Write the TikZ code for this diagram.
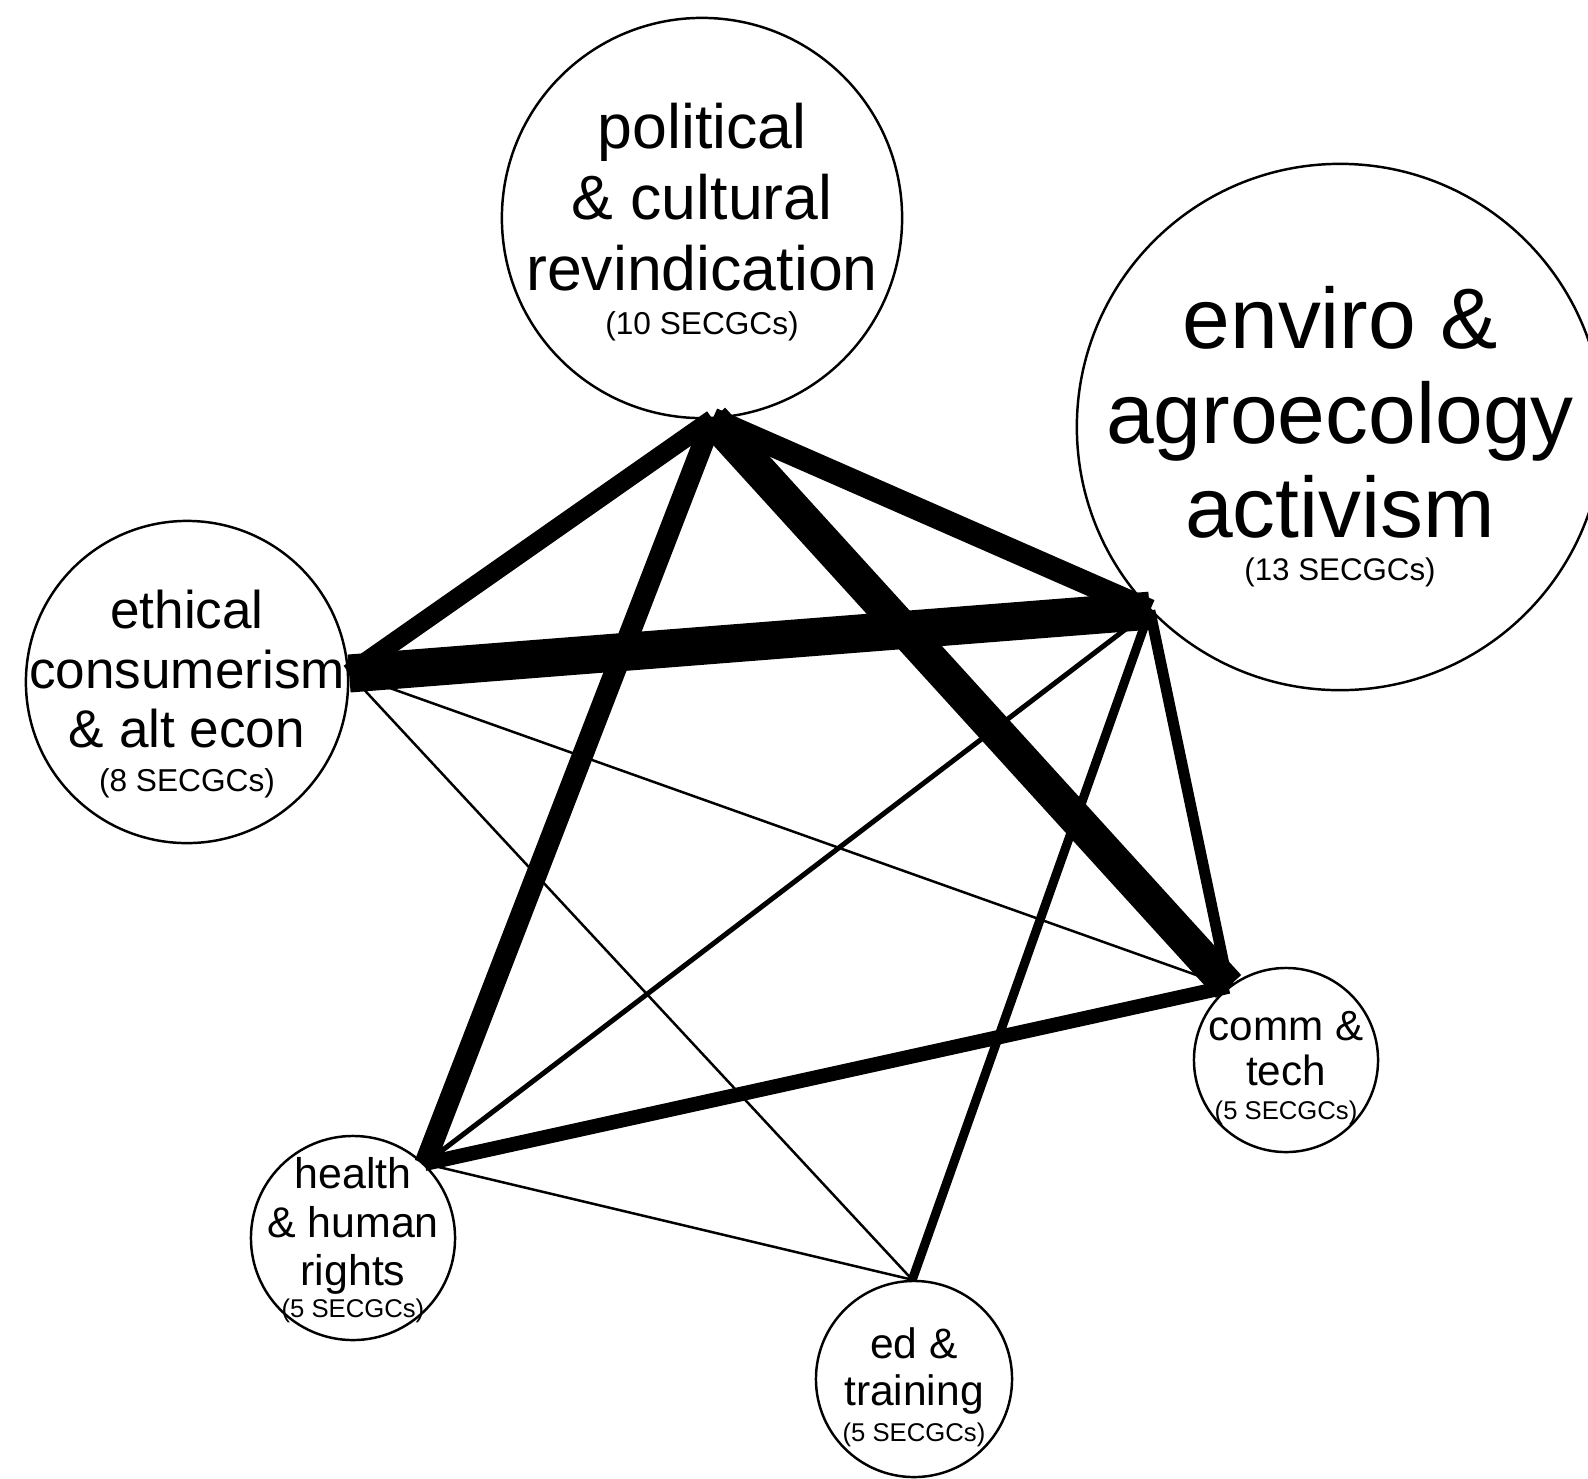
\documentclass[tikz,border=0pt]{standalone}
\usepackage{fontspec}
\setmainfont{Liberation Sans}
\begin{document}
\begin{tikzpicture}[x=0.01cm,y=-0.01cm,
  circ/.style={circle,draw,line width=0.7pt,inner sep=0pt},
  lbl/.style={align=center,inner sep=0pt},
  tie/.style={line width=#1}]
\fill[white] (0,0) rectangle (1588,1478);
\clip (0,0) rectangle (1588,1478);
\useasboundingbox (0,0) rectangle (1588,1478);

\node[circ,minimum size=4cm] (pol) at (702,218) {};
\node[circ,minimum size=5.26cm] (env) at (1340,427) {};
\node[circ,minimum size=3.22cm] (eth) at (187,682) {};
\node[circ,minimum size=2.04cm] (hea) at (353,1238) {};
\node[circ,minimum size=1.96cm] (edu) at (914,1379) {};
\node[circ,minimum size=1.84cm] (com) at (1286,1060) {};

\node[lbl,font={\fontsize{17.8}{20.2}\selectfont}] (polT) at (702,222)
  {political\\ \& cultural\\ revindication\\[-7.8pt]{\fontsize{9}{10}\selectfont (10 SECGCs)}};
\node[lbl,font={\fontsize{24.4}{26.8}\selectfont}] (envT) at (1340,437)
  {enviro \&\\ agroecology\\ activism\\[-14.4pt]{\fontsize{8.9}{10}\selectfont (13 SECGCs)}};
\node[lbl,font={\fontsize{15.1}{16.9}\selectfont}] (ethT) at (187,694)
  {ethical\\ consumerism\\ \& alt econ\\[-4.5pt]{\fontsize{9}{10}\selectfont (8 SECGCs)}};
\node[lbl,font={\fontsize{12.2}{13.8}\selectfont}] (heaT) at (353,1240)
  {health\\ \& human\\ rights\\[-4.8pt]{\fontsize{7.3}{8}\selectfont (5 SECGCs)}};
\node[lbl,font={\fontsize{12.1}{13.5}\selectfont}] (eduT) at (914,1387)
  {ed \&\\ training\\[-3.35pt]{\fontsize{7.3}{8}\selectfont (5 SECGCs)}};
\node[lbl,font={\fontsize{12}{13}\selectfont}] (comT) at (1286,1068)
  {comm \&\\ tech\\[-3.4pt]{\fontsize{7.3}{8}\selectfont (5 SECGCs)}};

\coordinate (polP) at (pol.-87);
\coordinate (envP) at (env.-136);
\coordinate (ethP) at (eth.3);
\coordinate (heaP) at (hea.46);
\coordinate (eduP) at (edu.91);
\coordinate (comP) at (com.128);

\draw[tie=0.25mm] (ethP) -- (comP);
\draw[tie=0.25mm] (ethP) -- (eduP);
\draw[tie=0.25mm] (heaP) -- (eduP);
\draw[tie=0.5mm] (envP) -- (heaP);
\draw[tie=0.9mm] (envP) -- (eduP);
\draw[tie=1.1mm] (envP) -- (comP);
\draw[tie=1.45mm] (heaP) -- (comP);
\draw[tie=1.9mm] (polP) -- (ethP);
\draw[tie=2.1mm] (polP) -- (heaP);
\draw[tie=2.3mm] (polP) -- (envP);
\draw[tie=3.4mm] (polP) -- (comP);
\draw[tie=3.8mm] (ethP) -- (envP);
\end{tikzpicture}
\end{document}
